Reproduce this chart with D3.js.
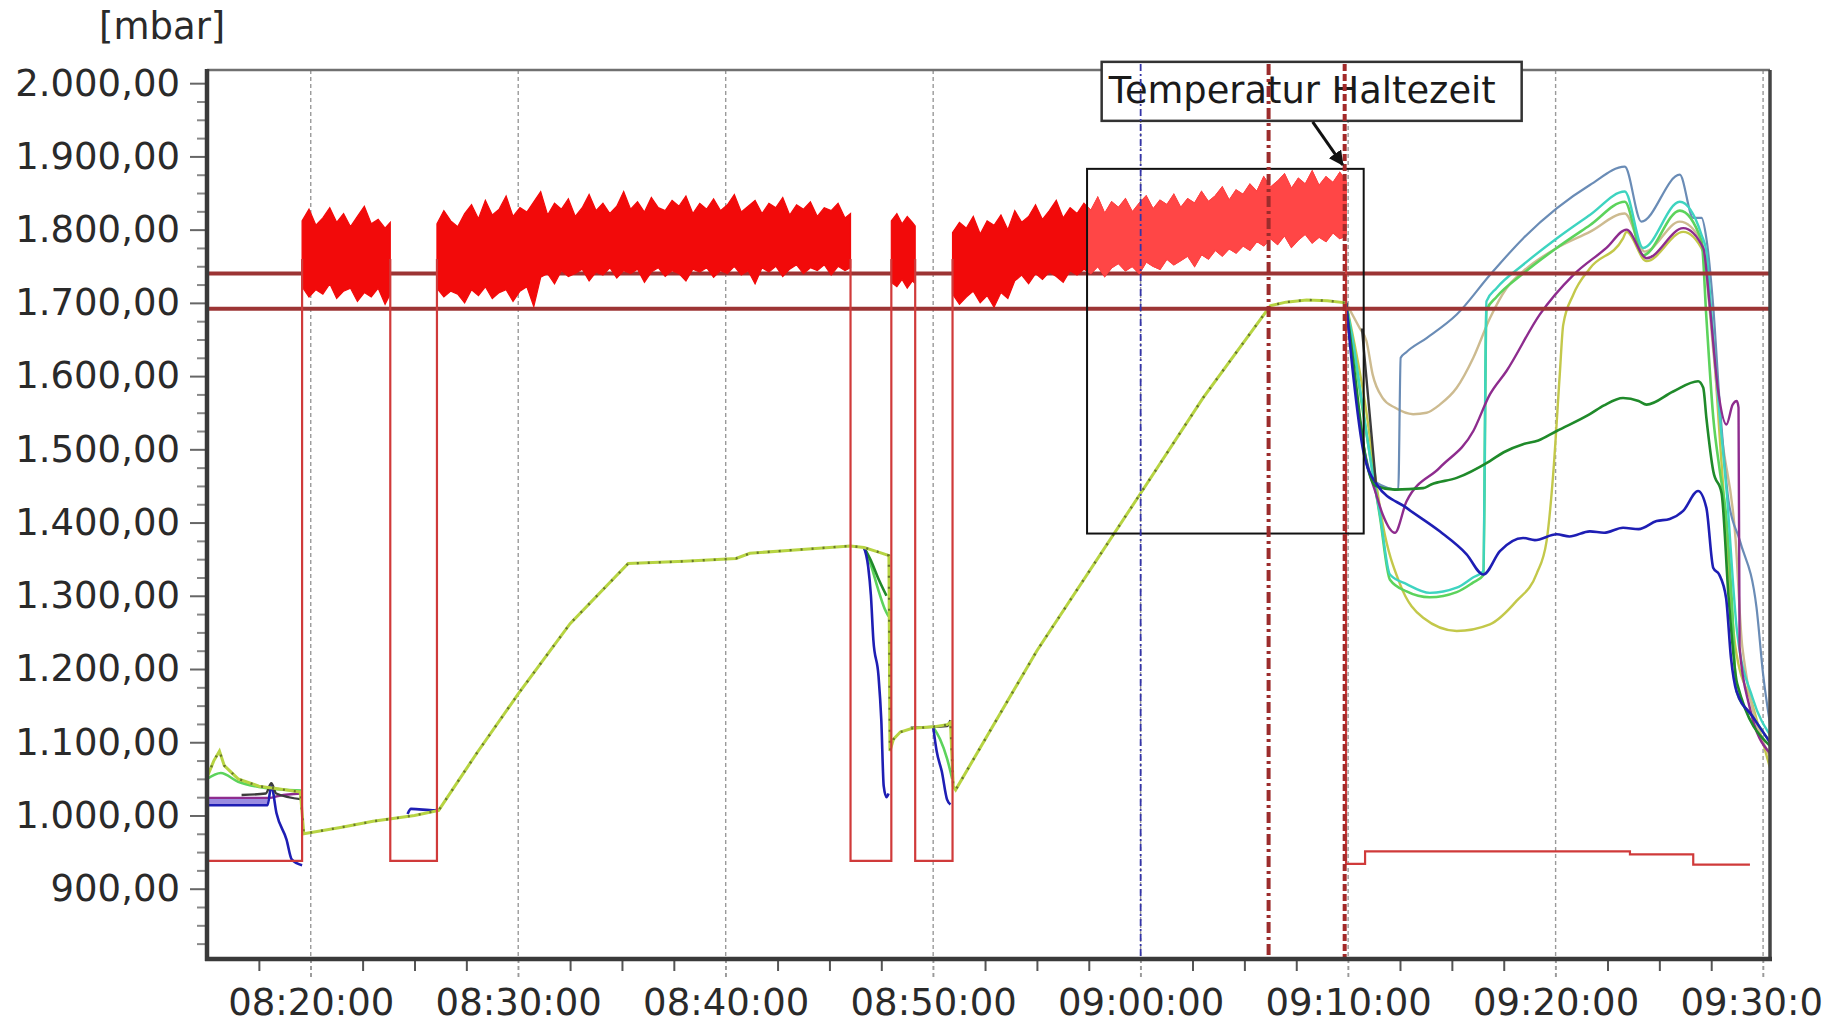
<!DOCTYPE html>
<html>
<head>
<meta charset="utf-8">
<script src="https://cdn.jsdelivr.net/npm/d3@7"></script>
<style>
  html, body { margin: 0; padding: 0; background: #fff; }
  svg { display: block; font-family: "DejaVu Sans", Verdana, sans-serif; }
</style>
</head>
<body>
<div class="card"></div>
<script>
/* global d3 */

// ---- axis setup ----
var timeStart = "08:15:00", timeEnd = "09:30:20";
var yMin = 804, yMax = 2018;
var yMajorTicks = [900, 1000, 1100, 1200, 1300, 1400, 1500, 1600, 1700, 1800, 1900, 2000];
var unitLabel = "[mbar]";

// ---- limit lines, markers, zoom box, note ----
var refLevels = [1740, 1692];
var markerBlue = "09:00:00";
var markerRed1 = "09:06:10";
var markerRed2 = "09:09:50";
var boxStart = "08:57:25", boxEnd = "09:10:45", boxTop = 1883, boxBottom = 1385;
var noteText = "Temperatur Haltezeit";
var noteTip = ["09:09:50", 1883];

// ---- red pressure signal: base / edges ----
var redLine = [
  ["08:15:00", 938], ["08:19:35", 938], ["08:19:35", 1760], null,
  ["08:23:50", 1760], ["08:23:50", 938], ["08:26:05", 938], ["08:26:05", 1760], null,
  ["08:46:01", 1760], ["08:46:01", 938], ["08:47:59", 938], ["08:47:59", 1760], null,
  ["08:49:08", 1760], ["08:49:08", 938], ["08:50:56", 938], ["08:50:56", 1760], null,
  ["09:09:54", 1780], ["09:09:54", 934], ["09:10:49", 934], ["09:10:49", 951],
  ["09:23:35", 951], ["09:23:35", 947], ["09:26:38", 947], ["09:26:38", 933], ["09:29:22", 933]
];

// ---- red pressure signal: noisy blocks [time, low, high] ----
var redBlock1 = [
  ["08:19:35",1722,1812],["08:19:55",1708,1828],["08:20:15",1718,1806],["08:20:35",1712,1816],
  ["08:20:55",1726,1830],["08:21:15",1706,1810],["08:21:35",1716,1822],["08:21:55",1720,1804],
  ["08:22:15",1702,1818],["08:22:35",1714,1832],["08:22:55",1708,1808],["08:23:15",1720,1814],
  ["08:23:35",1698,1802],["08:23:50",1712,1810]
];
var redBlock2 = [
  ["08:26:05",1720,1808],["08:26:25",1708,1826],["08:26:45",1716,1812],["08:27:05",1712,1804],
  ["08:27:25",1700,1822],["08:27:45",1718,1834],["08:28:05",1710,1815],["08:28:25",1722,1840],
  ["08:28:45",1706,1820],["08:29:05",1714,1828],["08:29:25",1718,1846],["08:29:45",1702,1818],
  ["08:30:05",1716,1830],["08:30:25",1722,1824],["08:30:45",1695,1838],["08:31:05",1735,1852],
  ["08:31:25",1740,1820],["08:31:45",1726,1836],["08:32:05",1744,1828],["08:32:25",1736,1842],
  ["08:32:45",1740,1818],["08:33:05",1746,1830],["08:33:25",1730,1848],["08:33:45",1742,1826],
  ["08:34:05",1738,1836],["08:34:25",1748,1822],["08:34:45",1734,1832],["08:35:05",1744,1852],
  ["08:35:25",1740,1828],["08:35:45",1746,1838],["08:36:05",1728,1824],["08:36:25",1742,1844],
  ["08:36:45",1748,1830],["08:37:05",1736,1826],["08:37:25",1744,1840],["08:37:45",1740,1832],
  ["08:38:05",1730,1846],["08:38:25",1746,1822],["08:38:45",1742,1836],["08:39:05",1748,1828],
  ["08:39:25",1735,1842],["08:39:45",1744,1826],["08:40:05",1740,1834],["08:40:25",1750,1848],
  ["08:40:45",1738,1824],["08:41:05",1744,1832],["08:41:25",1726,1840],["08:41:45",1748,1822],
  ["08:42:05",1742,1836],["08:42:25",1750,1830],["08:42:45",1736,1844],["08:43:05",1746,1820],
  ["08:43:25",1752,1834],["08:43:45",1740,1828],["08:44:05",1748,1838],["08:44:25",1744,1818],
  ["08:44:45",1752,1830],["08:45:05",1738,1826],["08:45:25",1750,1836],["08:45:45",1744,1816],
  ["08:46:01",1748,1822]
];
var redBlock3 = [
  ["08:47:59",1728,1812],["08:48:15",1722,1822],["08:48:30",1732,1808],["08:48:45",1720,1818],
  ["08:49:00",1730,1810],["08:49:08",1726,1805]
];
var redBlock4 = [
  ["08:50:56",1712,1796],["08:51:16",1698,1810],["08:51:36",1708,1802],["08:51:56",1716,1818],
  ["08:52:16",1700,1794],["08:52:36",1710,1812],["08:52:56",1694,1806],["08:53:16",1714,1820],
  ["08:53:36",1706,1800],["08:53:56",1730,1826],["08:54:16",1738,1810],["08:54:36",1726,1818],
  ["08:54:56",1740,1834],["08:55:16",1732,1814],["08:55:36",1742,1826],["08:55:56",1736,1840],
  ["08:56:16",1728,1816],["08:56:36",1744,1830],["08:56:56",1738,1822],["08:57:16",1746,1836],
  ["08:57:36",1740,1826],["08:57:56",1750,1844],["08:58:16",1736,1822],["08:58:36",1748,1838],
  ["08:58:56",1754,1830],["08:59:16",1744,1842],["08:59:36",1750,1824],["08:59:56",1740,1836],
  ["09:00:16",1756,1846],["09:00:36",1750,1828],["09:00:56",1746,1840],["09:01:16",1760,1834],
  ["09:01:36",1752,1848],["09:01:56",1758,1830],["09:02:16",1764,1842],["09:02:36",1750,1836],
  ["09:02:56",1766,1852],["09:03:16",1760,1838],["09:03:36",1772,1846],["09:03:56",1764,1858],
  ["09:04:16",1774,1840],["09:04:36",1768,1854],["09:04:56",1778,1848],["09:05:16",1772,1862],
  ["09:05:36",1784,1852],["09:05:56",1778,1872],["09:06:16",1788,1858],["09:06:36",1780,1866],
  ["09:06:56",1792,1876],["09:07:16",1776,1856],["09:07:36",1786,1870],["09:07:56",1794,1862],
  ["09:08:16",1782,1880],["09:08:36",1790,1860],["09:08:56",1784,1872],["09:09:16",1796,1864],
  ["09:09:36",1788,1878],["09:09:54",1792,1866]
];

// ---- common sensor trace (all sensors equal) ----
var mainLine = [
  ["08:15:00",1052],["08:15:20",1075],["08:15:36",1088],["08:15:50",1068],["08:16:30",1050],
  ["08:17:30",1040],["08:18:30",1036],["08:19:30",1032],["08:19:40",975],["08:21:30",984],
  ["08:23:00",992],["08:25:00",1000],["08:26:10",1007],["08:28:00",1085],["08:30:00",1166],
  ["08:32:30",1262],["08:35:18",1344],["08:38:00",1347],["08:40:30",1351],["08:41:10",1358],
  ["08:43:00",1362],["08:45:00",1366],["08:46:00",1368],["08:46:40",1366],["08:47:20",1360],
  ["08:47:52",1355],["08:47:55",1088],["08:48:05",1104],["08:48:25",1114],["08:49:00",1119],
  ["08:50:00",1121],["08:50:40",1124],["08:50:50",1127],["08:50:58",1040],["08:51:05",1035],
  ["08:55:00",1225],["09:00:00",1440],["09:03:00",1570],["09:06:15",1696],["09:07:00",1701],
  ["09:08:00",1704],["09:09:00",1703],["09:09:54",1700]
];

// ---- individual sensors ----
var violetLine = [["08:15:00",1018],["08:17:55",1018]];
var darkGrayLine = [
  ["08:16:40",1028],["08:17:50",1030],["08:18:06",1044],["08:18:20",1030],["08:19:35",1022], null,
  ["08:48:55",1120],["08:50:40",1122],["08:50:50",1130], null,
  ["09:10:40",1665],["09:11:20",1455]
];
var blueLine = [
  ["08:15:00",1014],["08:17:55",1014],["08:18:06",1040],["08:18:21",1003],["08:18:50",967],
  ["08:19:05",940],["08:19:35",932], null,
  ["08:24:40",1002],["08:24:50",1009],["08:25:58",1007],["08:26:05",1008], null,
  ["08:46:40",1366],["08:46:52",1340],["08:47:00",1300],["08:47:07",1240],["08:47:22",1190],
  ["08:47:30",1130],["08:47:37",1040],["08:47:45",1025],["08:47:51",1030], null,
  ["08:50:00",1121],["08:50:10",1088],["08:50:25",1060],["08:50:40",1022],["08:50:50",1015], null,
  ["09:09:54",1700],["09:10:15",1600],["09:10:45",1495],["09:11:23",1452],["09:12:49",1420],
  ["09:14:25",1388],["09:15:42",1357],["09:16:31",1329],["09:17:19",1361],["09:18:26",1379],
  ["09:19:00",1376],["09:20:03",1384],["09:20:40",1381],["09:21:39",1388],["09:22:20",1386],
  ["09:23:15",1393],["09:24:00",1391],["09:24:52",1402],["09:25:30",1405],["09:26:09",1416],
  ["09:26:52",1443],["09:27:16",1420],["09:27:36",1338],["09:27:53",1329],["09:28:13",1297],
  ["09:28:27",1216],["09:28:43",1170],["09:29:30",1135],["09:30:20",1100]
];
var purpleLine = [
  ["08:15:00",1024],["08:18:00",1024],["08:18:30",1027],["08:19:30",1030], null,
  ["09:09:54",1700],["09:10:20",1590],["09:10:50",1490],["09:11:20",1440],["09:11:40",1411],
  ["09:12:15",1386],["09:12:49",1429],["09:14:25",1475],["09:16:02",1525],["09:16:50",1575],
  ["09:17:38",1607],["09:19:14",1684],["09:20:51",1738],["09:22:27",1775],["09:23:25",1800],
  ["09:24:23",1761],["09:26:09",1802],["09:27:07",1775],["09:27:25",1700],["09:27:50",1580],
  ["09:28:14",1534],["09:28:32",1561],["09:28:44",1566],["09:28:49",1557],["09:28:52",1230],
  ["09:29:20",1150],["09:30:20",1085]
];
var greenLine = [
  ["08:15:00",1050],["08:15:40",1058],["08:16:30",1046],["08:17:30",1039],["08:19:35",1034], null,
  ["08:46:40",1366],["08:47:00",1342],["08:47:20",1310],["08:47:40",1282],["08:47:51",1272], null,
  ["08:50:00",1121],["08:50:20",1104],["08:50:40",1078],["08:50:55",1050], null,
  ["09:09:54",1700],["09:10:15",1640],["09:10:40",1560],["09:11:11",1470],["09:11:32",1408],
  ["09:12:01",1322],["09:12:49",1306],["09:13:56",1298],["09:15:14",1305],["09:16:01",1318],
  ["09:16:31",1328],["09:16:40",1690],["09:17:09",1708],["09:18:26",1740],["09:20:03",1775],
  ["09:21:39",1806],["09:23:20",1838],["09:24:13",1765],["09:25:59",1826],["09:27:02",1785],
  ["09:27:16",1680],["09:27:36",1543],["09:27:55",1470],["09:28:15",1400],["09:28:30",1290],
  ["09:28:43",1170],["09:29:30",1135],["09:30:20",1100]
];
var darkGreenLine = [
  ["08:46:40",1366],["08:47:00",1348],["08:47:20",1325],["08:47:45",1300], null,
  ["09:09:54",1700],["09:10:20",1600],["09:10:50",1490],["09:11:20",1450],["09:12:15",1445],
  ["09:13:37",1447],["09:14:00",1452],["09:15:14",1461],["09:16:50",1484],["09:17:30",1496],
  ["09:18:26",1507],["09:19:10",1512],["09:20:03",1525],["09:21:39",1548],["09:22:20",1560],
  ["09:23:15",1570],["09:24:00",1566],["09:24:23",1561],["09:25:40",1579],["09:26:52",1593],
  ["09:27:07",1584],["09:27:16",1543],["09:27:36",1470],["09:28:00",1440],["09:28:20",1300],
  ["09:28:45",1180],["09:30:20",1095]
];
var cyanLine = [
  ["09:09:54",1700],["09:10:15",1645],["09:10:40",1565],["09:11:11",1466],["09:11:32",1411],
  ["09:12:01",1329],["09:12:49",1316],["09:13:56",1304],["09:15:14",1311],["09:16:01",1325],
  ["09:16:31",1334],["09:16:40",1702],["09:17:09",1720],["09:18:26",1752],["09:20:03",1788],
  ["09:21:39",1820],["09:23:20",1852],["09:24:13",1775],["09:25:59",1838],["09:27:02",1793],
  ["09:27:16",1770],["09:27:30",1690],["09:27:50",1570],["09:28:15",1440],["09:28:45",1250],
  ["09:29:30",1160],["09:30:20",1110]
];
var steelLine = [
  ["09:09:54",1700],["09:10:15",1610],["09:10:45",1505],["09:11:20",1455],["09:12:25",1445],
  ["09:12:32",1625],["09:12:49",1633],["09:13:47",1652],["09:15:14",1684],["09:16:50",1738],
  ["09:18:26",1788],["09:20:03",1829],["09:21:39",1861],["09:23:20",1886],["09:24:08",1811],
  ["09:25:59",1875],["09:26:38",1816],["09:27:02",1816],["09:27:16",1788],["09:27:35",1700],
  ["09:27:55",1560],["09:28:20",1430],["09:28:53",1375],["09:29:41",1284],["09:30:00",1193],
  ["09:30:20",1125]
];
var tanLine = [
  ["09:09:54",1700],["09:10:34",1665],["09:10:53",1648],["09:11:11",1602],["09:11:40",1570],
  ["09:12:15",1557],["09:13:08",1548],["09:13:47",1550],["09:14:25",1561],["09:15:14",1584],
  ["09:16:02",1625],["09:16:50",1679],["09:17:38",1720],["09:18:26",1743],["09:20:03",1775],
  ["09:21:39",1797],["09:23:20",1822],["09:24:18",1770],["09:25:59",1811],["09:27:02",1784],
  ["09:27:16",1738],["09:27:35",1640],["09:28:00",1520],["09:28:40",1380],["09:29:00",1230],
  ["09:30:20",1080]
];
var oliveLine = [
  ["09:09:54",1700],["09:10:20",1640],["09:10:50",1560],["09:11:11",1488],["09:11:40",1398],
  ["09:12:30",1316],["09:13:37",1270],["09:15:14",1252],["09:16:50",1261],["09:18:07",1293],
  ["09:19:05",1330],["09:19:34",1375],["09:19:53",1466],["09:20:12",1602],["09:20:22",1670],
  ["09:20:51",1711],["09:21:39",1747],["09:23:15",1788],["09:23:25",1797],["09:24:23",1757],
  ["09:26:09",1797],["09:27:07",1770],["09:27:30",1680],["09:28:00",1480],["09:28:40",1230],
  ["09:29:30",1150],["09:30:20",1065]
];

// ---- drawing ----
var width = 1823, height = 1024;
var plotLeft = 207, plotRight = 1770, plotTop = 70, plotBottom = 959;

var parseTime = d3.timeParse("%H:%M:%S");
var de = d3.formatLocale({decimal: ",", thousands: ".", grouping: [3], currency: ["", " €"]});
var fmtY = de.format(",.2f");

var x = d3.scaleTime()
    .domain([parseTime(timeStart), parseTime(timeEnd)])
    .range([plotLeft, plotRight]);
var y = d3.scaleLinear()
    .domain([yMin, yMax])
    .range([plotBottom, plotTop]);

var svg = d3.select(".card").append("svg")
    .attr("width", width)
    .attr("height", height);

svg.append("rect").attr("width", width).attr("height", height).attr("fill", "#fff");

var line = d3.line()
    .defined(function(d) { return d; })
    .x(function(d) { return x(parseTime(d[0])); })
    .y(function(d) { return y(d[1]); });

var smoothLine = d3.line()
    .defined(function(d) { return d; })
    .curve(d3.curveMonotoneX)
    .x(function(d) { return x(parseTime(d[0])); })
    .y(function(d) { return y(d[1]); });

var band = d3.area()
    .x(function(d) { return x(parseTime(d[0])); })
    .y0(function(d) { return y(d[1]); })
    .y1(function(d) { return y(d[2]); });

// vertical grid (every 10 min)
var majorTimes = x.ticks(d3.timeMinute.every(10));
svg.append("g").selectAll("line").data(majorTimes).enter().append("line")
    .attr("x1", function(d) { return x(d); })
    .attr("x2", function(d) { return x(d); })
    .attr("y1", plotTop)
    .attr("y2", plotBottom + 19)
    .attr("stroke", "#9a9a9a")
    .attr("stroke-width", 1.4)
    .attr("stroke-dasharray", "4,3");

// sensor lines
var sensors = [
  {data: violetLine,    color: "#9a8ce0", w: 7},
  {data: oliveLine,     color: "#c3c84a", w: 2.4},
  {data: tanLine,       color: "#cdbb90", w: 2.4},
  {data: steelLine,     color: "#6a8cb6", w: 2.2},
  {data: greenLine,     color: "#5cd35c", w: 2.6},
  {data: cyanLine,      color: "#3ed4c0", w: 2.4},
  {data: purpleLine,    color: "#8e2c8e", w: 2.4},
  {data: darkGreenLine, color: "#1f8a2a", w: 2.6},
  {data: blueLine,      color: "#1e1eb4", w: 2.6},
  {data: darkGrayLine,  color: "#3c3c3c", w: 2.4}
];
svg.append("g").selectAll("path").data(sensors).enter().append("path")
    .attr("d", function(d) { return smoothLine(d.data); })
    .attr("fill", "none")
    .attr("stroke", function(d) { return d.color; })
    .attr("stroke-width", function(d) { return d.w; })
    .attr("stroke-linejoin", "round");

svg.append("path")
    .attr("d", line(mainLine))
    .attr("fill", "none")
    .attr("stroke", "#b7d443")
    .attr("stroke-width", 3);
svg.append("path")
    .attr("d", line(mainLine))
    .attr("fill", "none")
    .attr("stroke", "#4d5a22")
    .attr("stroke-width", 2.4)
    .attr("stroke-dasharray", "2,9")
    .attr("opacity", 0.75);

// limit lines
svg.append("g").selectAll("line").data(refLevels).enter().append("line")
    .attr("x1", plotLeft).attr("x2", plotRight)
    .attr("y1", function(d) { return y(d); })
    .attr("y2", function(d) { return y(d); })
    .attr("stroke", "#9c3434")
    .attr("stroke-width", 4);

// red noisy pressure signal
var blocks = [redBlock1, redBlock2, redBlock3, redBlock4];
var bx0 = x(parseTime(boxStart)), bx1 = x(parseTime(boxEnd));
var by0 = y(boxTop), by1 = y(boxBottom);

svg.append("defs").append("clipPath").attr("id", "boxclip")
  .append("rect")
    .attr("x", bx0).attr("y", plotTop)
    .attr("width", bx1 - bx0).attr("height", plotBottom - plotTop);

svg.append("g").selectAll("path").data(blocks).enter().append("path")
    .attr("d", band)
    .attr("fill", "#f20a0a")
    .attr("stroke", "#f20a0a")
    .attr("stroke-width", 1.2);
svg.append("g").attr("clip-path", "url(#boxclip)")
  .selectAll("path").data(blocks).enter().append("path")
    .attr("d", band)
    .attr("fill", "#ff4646")
    .attr("stroke", "#ff4646")
    .attr("stroke-width", 1.2);

svg.append("path")
    .attr("d", line(redLine))
    .attr("fill", "none")
    .attr("stroke", "#d03a3a")
    .attr("stroke-width", 2.2);

// zoom box
svg.append("rect")
    .attr("x", bx0).attr("y", by0)
    .attr("width", bx1 - bx0).attr("height", by1 - by0)
    .attr("fill", "none")
    .attr("stroke", "#111")
    .attr("stroke-width", 2);

// frame
svg.append("line").attr("x1", plotLeft).attr("x2", plotRight).attr("y1", plotTop).attr("y2", plotTop)
    .attr("stroke", "#707070").attr("stroke-width", 2.5);
svg.append("line").attr("x1", plotRight).attr("x2", plotRight).attr("y1", plotTop).attr("y2", plotBottom)
    .attr("stroke", "#454545").attr("stroke-width", 3.5);

// note box
var tipX = x(parseTime(noteTip[0])), tipY = y(noteTip[1]);
var note = svg.append("g");
note.append("rect")
    .attr("x", tipX - 243).attr("y", tipY - 107)
    .attr("width", 420).attr("height", 59)
    .attr("fill", "#fff")
    .attr("stroke", "#333")
    .attr("stroke-width", 2.5);
note.append("text")
    .attr("x", tipX - 236).attr("y", tipY - 66)
    .attr("font-size", 36.8)
    .attr("fill", "#1a1a1a")
    .text(noteText);

// vertical markers
var markers = [
  {t: markerBlue, color: "#3434a8", w: 1.8, dash: "7,3,2,3"},
  {t: markerRed1, color: "#9c2c2c", w: 4, dash: "11,4,3,4"},
  {t: markerRed2, color: "#a32a2a", w: 4, dash: "7,3"}
];
svg.append("g").selectAll("line").data(markers).enter().append("line")
    .attr("x1", function(d) { return x(parseTime(d.t)); })
    .attr("x2", function(d) { return x(parseTime(d.t)); })
    .attr("y1", plotTop - 6)
    .attr("y2", plotBottom)
    .attr("stroke", function(d) { return d.color; })
    .attr("stroke-width", function(d) { return d.w; })
    .attr("stroke-dasharray", function(d) { return d.dash; });

// arrow
svg.append("defs").append("marker")
    .attr("id", "arrowhead")
    .attr("viewBox", "0 0 10 10")
    .attr("refX", 9).attr("refY", 5)
    .attr("markerWidth", 5).attr("markerHeight", 5)
    .attr("orient", "auto")
  .append("path").attr("d", "M0,0L10,5L0,10z").attr("fill", "#111");
svg.append("line")
    .attr("x1", tipX - 32).attr("y1", tipY - 47)
    .attr("x2", tipX - 2).attr("y2", tipY - 4)
    .attr("stroke", "#111")
    .attr("stroke-width", 3)
    .attr("marker-end", "url(#arrowhead)");

// y axis
var yAxis = svg.append("g")
    .attr("transform", "translate(" + plotLeft + ",0)")
    .call(d3.axisLeft(y).tickValues(yMajorTicks).tickSize(17).tickPadding(10).tickFormat(fmtY));
var yMinor = d3.range(825, yMax, 25).filter(function(v) { return v % 100 !== 0; });
var yAxisMinor = svg.append("g")
    .attr("transform", "translate(" + plotLeft + ",0)")
    .call(d3.axisLeft(y).tickValues(yMinor).tickSize(10).tickFormat(""));

// x axis
var xAxis = svg.append("g")
    .attr("transform", "translate(0," + plotBottom + ")")
    .call(d3.axisBottom(x).tickValues(majorTimes).tickSize(19).tickPadding(11)
      .tickFormat(d3.timeFormat("%H:%M:%S")));
var t0 = parseTime(timeStart).getTime();
var xMinor = d3.range(2.5, 76, 2.5)
    .filter(function(m) { return (m - 5) % 10 !== 0; })
    .map(function(m) { return new Date(t0 + m * 60000); })
    .filter(function(d) { return d <= x.domain()[1]; });
var xAxisMinor = svg.append("g")
    .attr("transform", "translate(0," + plotBottom + ")")
    .call(d3.axisBottom(x).tickValues(xMinor).tickSize(12).tickFormat(""));

[yAxis, yAxisMinor, xAxis, xAxisMinor].forEach(function(g) {
  g.select(".domain").remove();
  g.selectAll("text")
    .attr("font-family", "DejaVu Sans, Verdana, sans-serif")
    .attr("font-size", 37)
    .attr("fill", "#2a2a2a");
});
yAxis.selectAll("line").attr("stroke", "#666").attr("stroke-width", 2);
yAxisMinor.selectAll("line").attr("stroke", "#888").attr("stroke-width", 2);
xAxis.selectAll("line").attr("stroke", "#9a9a9a").attr("stroke-width", 1.4).attr("stroke-dasharray", "4,3");
xAxisMinor.selectAll("line").attr("stroke", "#555").attr("stroke-width", 2);

// left and bottom axis lines
svg.append("line").attr("x1", plotLeft).attr("x2", plotLeft).attr("y1", plotTop - 1).attr("y2", plotBottom + 2)
    .attr("stroke", "#3a3a3a").attr("stroke-width", 4.5);
svg.append("line").attr("x1", plotLeft - 2).attr("x2", plotRight + 2).attr("y1", plotBottom).attr("y2", plotBottom)
    .attr("stroke", "#3a3a3a").attr("stroke-width", 4.5);

svg.append("text")
    .attr("x", 99).attr("y", 39)
    .attr("font-size", 37)
    .attr("fill", "#2a2a2a")
    .text(unitLabel);
</script>
</body>
</html>
